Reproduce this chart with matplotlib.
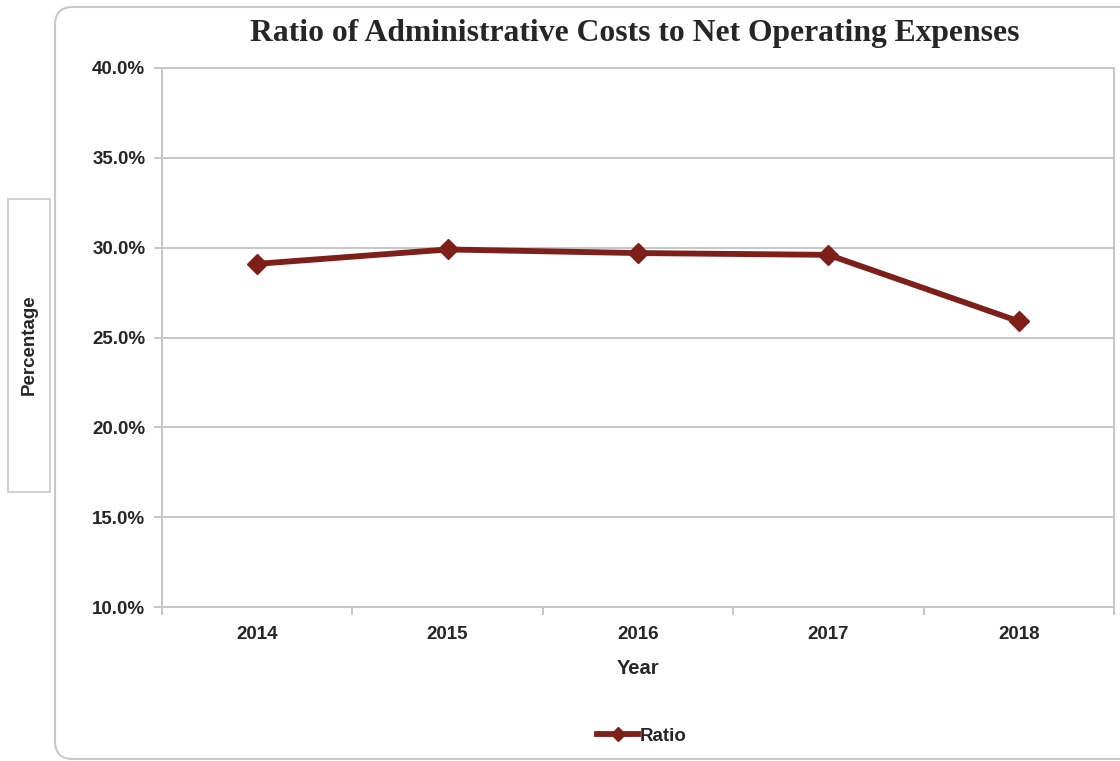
import matplotlib
matplotlib.use("Agg")
import matplotlib.pyplot as plt
from matplotlib.patches import FancyBboxPatch, Rectangle
from matplotlib.transforms import IdentityTransform
from matplotlib.ticker import FuncFormatter, FixedLocator

# Data
years = ["2014", "2015", "2016", "2017", "2018"]
ratio = [29.1, 29.9, 29.7, 29.6, 25.9]

line_color = "#7f1f1a"
grid_color = "#c6c6c6"
text_color = "#262626"

plt.rcParams["font.family"] = ["Liberation Sans", "DejaVu Sans"]

fig = plt.figure(figsize=(11.2, 7.61), dpi=100)

# Outer rounded chart frame (pixel coordinates)
frame = FancyBboxPatch((55, 2), 1120, 752, boxstyle="round,pad=0,rounding_size=18",
                       transform=IdentityTransform(), facecolor="none",
                       edgecolor="#c8c8c8", linewidth=1.5, zorder=0)
fig.patches.append(frame)

ax = fig.add_axes([162 / 1120, 1 - 607 / 761, (1114 - 162) / 1120, (607 - 68) / 761])

x = list(range(len(years)))
ax.plot(x, ratio, color=line_color, linewidth=4.2, marker="D", markersize=10,
        markerfacecolor=line_color, markeredgecolor=line_color, label="Ratio",
        solid_joinstyle="round", zorder=3)

ax.set_xlim(-0.5, len(years) - 0.5)
ax.set_ylim(10, 40)
ax.set_yticks([10, 15, 20, 25, 30, 35, 40])
ax.yaxis.set_major_formatter(FuncFormatter(lambda v, p: f"{v:.1f}%"))
ax.grid(axis="y", color=grid_color, linewidth=1.4)
ax.set_axisbelow(True)

ax.set_xticks(x)
ax.set_xticklabels(years)
ax.xaxis.set_minor_locator(FixedLocator([i - 0.5 for i in range(len(years) + 1)]))
ax.tick_params(axis="x", which="major", length=0, pad=14)
ax.tick_params(axis="x", which="minor", length=6, color=grid_color, width=1.4)
ax.tick_params(axis="y", length=6, color=grid_color, width=1.4, pad=6)

for lab in ax.get_xticklabels() + ax.get_yticklabels():
    lab.set_fontsize(13.5)
    lab.set_fontweight("bold")
    lab.set_color(text_color)

for sp in ax.spines.values():
    sp.set_color(grid_color)
    sp.set_linewidth(1.4)

ax.set_xlabel("Year", fontsize=14.5, fontweight="bold", color=text_color, labelpad=11)

fig.text(635 / 1120, 1 - 33 / 761, "Ratio of Administrative Costs to Net Operating Expenses",
         ha="center", va="center", fontsize=22.8, fontweight="bold",
         family=["Liberation Serif", "DejaVu Serif"], color=text_color)

# Y axis title in its own box
fig.patches.append(Rectangle((8, 761 - 492), 42, 293, transform=IdentityTransform(),
                             facecolor="none", edgecolor="#c8c8c8", linewidth=1.2))
fig.text(29 / 1120, 1 - 345 / 761, "Percentage", rotation=90, ha="center", va="center",
         fontsize=13.5, fontweight="bold", color=text_color)

leg = fig.legend(loc="center", bbox_to_anchor=(642 / 1120, 1 - 736 / 761), frameon=False,
                 handlelength=2.2, handletextpad=0.1, markerscale=0.7,
                 prop={"weight": "bold", "size": 13.5})
for t in leg.get_texts():
    t.set_color(text_color)

fig.savefig("out.png", dpi=100)
